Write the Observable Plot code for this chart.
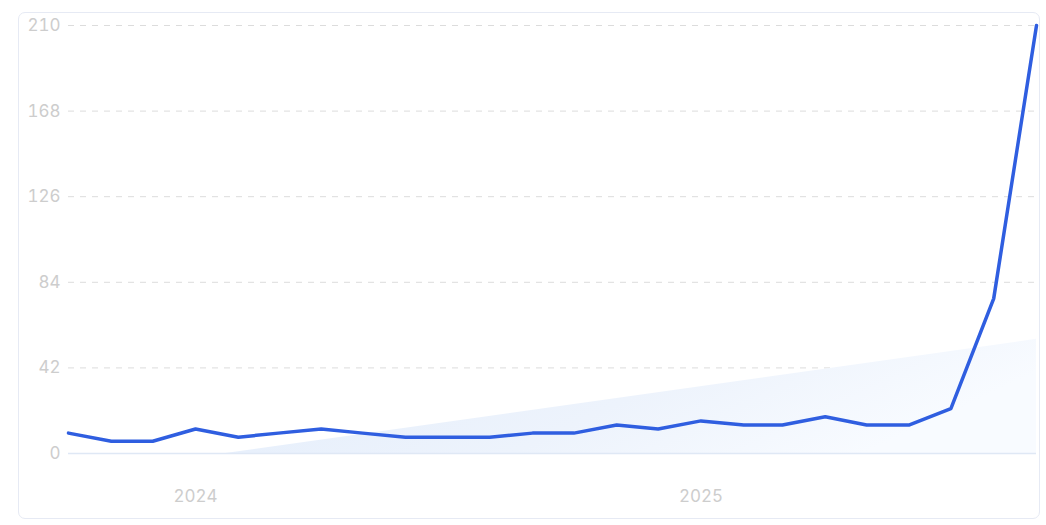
<!DOCTYPE html>
<html>
<head>
<meta charset="utf-8">
<script src="https://cdn.jsdelivr.net/npm/d3@7"></script>
<script src="https://cdn.jsdelivr.net/npm/@observablehq/plot@0.6"></script>
<style>
  html, body { margin: 0; padding: 0; background: #fff; }
  #wrap { position: relative; width: 1046px; height: 525px; }
  #frame { position: absolute; left: 18px; top: 12px; width: 1020px; height: 505px;
           border: 1.5px solid #e6eaf4; border-radius: 7px; pointer-events: none; }
</style>
</head>
<body>
<div id="wrap"><div id="frame"></div></div>
<script>
const months = [
  "2023-10","2023-11","2023-12","2024-01","2024-02","2024-03","2024-04","2024-05",
  "2024-06","2024-07","2024-08","2024-09","2024-10","2024-11","2024-12","2025-01",
  "2025-02","2025-03","2025-04","2025-05","2025-06","2025-07","2025-08","2025-09"
];
const values = [10, 6, 6, 12, 8, 10, 12, 10, 8, 8, 8, 10, 10, 14, 12, 16, 14, 14, 18, 14, 14, 22, 76, 210];
const trendDates = ["2024-01-23", "2025-09-01"];
const trendValues = [0, 56];
const yTicks = [0, 42, 84, 126, 168, 210];
const xTicks = ["2024-01-01", "2025-01-01"];

const series = months.map((m, i) => ({date: new Date(m + "-01T00:00:00Z"), value: values[i]}));
const trend = trendDates.map((d, i) => ({date: new Date(d + "T00:00:00Z"), value: trendValues[i]}));

const chart = Plot.plot({
  width: 1046,
  height: 525,
  marginLeft: 68,
  marginRight: 10,
  marginTop: 25,
  marginBottom: 72,
  style: {fontFamily: "Inter, 'Noto Sans', sans-serif", fontSize: "17px", color: "#cdcdcd", background: "transparent"},
  x: {type: "utc", domain: [series[0].date, series[series.length - 1].date]},
  y: {domain: [0, 210]},
  marks: [
    () => {
      const svg = d3.create("svg:defs");
      const g = svg.append("linearGradient").attr("id", "trendGrad").attr("x1", "0").attr("x2", "1").attr("y1", "0").attr("y2", "0.3");
      g.append("stop").attr("offset", "0%").attr("stop-color", "#e3edfb");
      g.append("stop").attr("offset", "60%").attr("stop-color", "#edf3fc");
      g.append("stop").attr("offset", "100%").attr("stop-color", "#f8fbff");
      return svg.node();
    },
    Plot.gridY(yTicks.filter(d => d > 0), {stroke: "#dcdcdc", strokeOpacity: 1, strokeDasharray: "6,6", strokeWidth: 1}),
    Plot.areaY(trend, {x: "date", y: "value", fill: "url(#trendGrad)"}),
    Plot.ruleY([0], {stroke: "#dfe8f5", strokeWidth: 1.5}),
    Plot.axisY({ticks: yTicks, tickSize: 0, tickPadding: 8, tickFormat: d => String(d), label: null, fill: "#cdcdcd"}),
    Plot.axisX({ticks: xTicks.map(d => new Date(d + "T00:00:00Z")), tickSize: 0, tickPadding: 36, tickFormat: d => String(d.getUTCFullYear()), label: null, fill: "#cdcdcd"}),
    Plot.lineY(series, {x: "date", y: "value", stroke: "#2f5ee0", strokeWidth: 3.5, strokeLinejoin: "round", strokeLinecap: "round"})
  ]
});
chart.style.position = "absolute";
chart.style.left = "0";
chart.style.top = "0";
document.getElementById("wrap").appendChild(chart);
</script>
</body>
</html>
